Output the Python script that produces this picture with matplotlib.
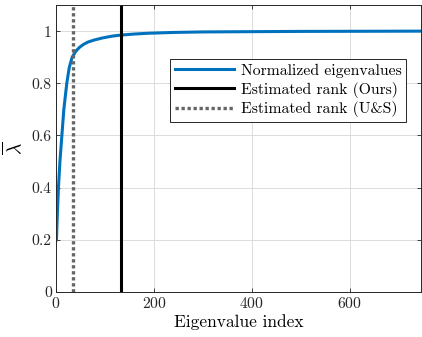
import matplotlib
matplotlib.use("Agg")
import matplotlib.pyplot as plt

# values
eig_index = [1, 2, 3, 5, 8, 12, 16, 22, 27, 33, 40, 48, 56, 65, 78, 95, 115, 133, 160,
             190, 240, 300, 400, 500, 745]
eig_norm = [0.20, 0.26, 0.31, 0.40, 0.50, 0.60, 0.70, 0.80, 0.86, 0.90, 0.922, 0.938,
            0.949, 0.958, 0.966, 0.974, 0.981, 0.985, 0.989, 0.992, 0.995, 0.997, 0.998,
            0.999, 1.0]
rank_ours = 133
rank_us = 34

plt.rcParams['font.family'] = ['cmr10']
plt.rcParams['mathtext.fontset'] = 'cm'
plt.rcParams['axes.formatter.use_mathtext'] = True

fig = plt.figure(figsize=(4.22, 3.37), dpi=100)
ax = fig.add_axes([0.1327, 0.1335, 0.8649, 0.8515])

ax.plot(eig_index, eig_norm, color='#0072BD', lw=2.2, label='Normalized eigenvalues')
ax.axvline(rank_ours, color='black', lw=2.2, label='Estimated rank (Ours)')
ax.axvline(rank_us, color='#666666', lw=2.4, linestyle=(0, (1, 0.8)), label='Estimated rank (U&S)')

ax.set_xlim(0, 745)
ax.set_ylim(0, 1.1)
ax.set_xticks([0, 200, 400, 600])
ax.set_yticks([0, 0.2, 0.4, 0.6, 0.8, 1])
ax.set_yticklabels(['0', '0.2', '0.4', '0.6', '0.8', '1'])
ax.grid(True, color='#dcdcdc', lw=0.7)
ax.set_axisbelow(True)
ax.tick_params(direction='in', top=True, right=True, labelsize=11.3, length=3, width=0.6,
               colors='#262626', pad=3)
for s in ax.spines.values():
    s.set_color('#262626')
    s.set_linewidth(0.7)

ax.set_xlabel('Eigenvalue index', fontsize=12.5, labelpad=2)
ax.set_ylabel(r'$\overline{\lambda}$', fontsize=14, labelpad=4)

leg = ax.legend(loc='upper right', bbox_to_anchor=(0.959, 0.813), borderaxespad=0,
                fontsize=11.3, handlelength=3.8, handletextpad=0.4, labelspacing=0.25,
                fancybox=False, framealpha=1, edgecolor='#262626', borderpad=0.3)
leg.get_frame().set_linewidth(0.7)

fig.savefig('out.png', dpi=100)
